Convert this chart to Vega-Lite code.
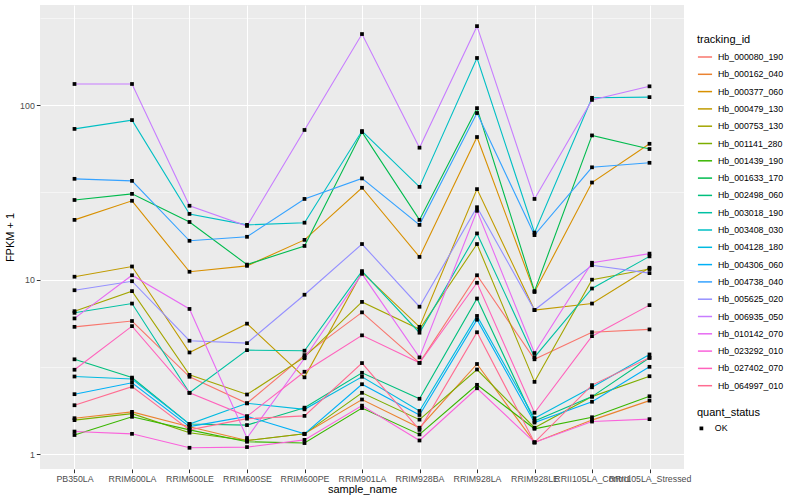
{
 "$schema": "https://vega.github.io/schema/vega-lite/v6.json",
 "width": 644,
 "height": 464,
 "autosize": {"type": "none"},
 "padding": {"left": 40, "top": 5, "right": 116, "bottom": 31},
 "background": "white",
 "config": {
  "view": {"fill": "#EBEBEB", "stroke": null},
  "font": "Liberation Sans",
  "axis": {"domain": false, "gridColor": "white", "tickColor": "#333333", "tickSize": 3.7, "tickWidth": 1, "labelColor": "#4D4D4D", "labelFontSize": 8.8, "labelFont": "Liberation Sans", "titleFont": "Liberation Sans", "titleFontSize": 11, "titleFontWeight": "normal", "titleColor": "black", "labelPadding": 2},
  "legend": {"titleFont": "Liberation Sans", "labelFont": "Liberation Sans", "titleFontSize": 11, "titleFontWeight": "normal", "titleColor": "black", "labelFontSize": 8.8, "labelColor": "black"}
 },
 "data": {"values": [
  {"tracking_id":"Hb_000080_190","sample_name":"PB350LA","fpkm":5.37,"quant_status":"OK"},
  {"tracking_id":"Hb_000080_190","sample_name":"RRIM600LA","fpkm":5.8,"quant_status":"OK"},
  {"tracking_id":"Hb_000080_190","sample_name":"RRIM600LE","fpkm":2.78,"quant_status":"OK"},
  {"tracking_id":"Hb_000080_190","sample_name":"RRIM600SE","fpkm":1.96,"quant_status":"OK"},
  {"tracking_id":"Hb_000080_190","sample_name":"RRIM600PE","fpkm":3.7,"quant_status":"OK"},
  {"tracking_id":"Hb_000080_190","sample_name":"RRIM901LA","fpkm":6.5,"quant_status":"OK"},
  {"tracking_id":"Hb_000080_190","sample_name":"RRIM928BA","fpkm":3.34,"quant_status":"OK"},
  {"tracking_id":"Hb_000080_190","sample_name":"RRIM928LA","fpkm":10.6,"quant_status":"OK"},
  {"tracking_id":"Hb_000080_190","sample_name":"RRIM928LE","fpkm":3.5,"quant_status":"OK"},
  {"tracking_id":"Hb_000080_190","sample_name":"RRII105LA_Control","fpkm":5.0,"quant_status":"OK"},
  {"tracking_id":"Hb_000080_190","sample_name":"RRII105LA_Stressed","fpkm":5.19,"quant_status":"OK"},
  {"tracking_id":"Hb_000162_040","sample_name":"PB350LA","fpkm":1.61,"quant_status":"OK"},
  {"tracking_id":"Hb_000162_040","sample_name":"RRIM600LA","fpkm":1.75,"quant_status":"OK"},
  {"tracking_id":"Hb_000162_040","sample_name":"RRIM600LE","fpkm":1.44,"quant_status":"OK"},
  {"tracking_id":"Hb_000162_040","sample_name":"RRIM600SE","fpkm":1.2,"quant_status":"OK"},
  {"tracking_id":"Hb_000162_040","sample_name":"RRIM600PE","fpkm":1.31,"quant_status":"OK"},
  {"tracking_id":"Hb_000162_040","sample_name":"RRIM901LA","fpkm":2.06,"quant_status":"OK"},
  {"tracking_id":"Hb_000162_040","sample_name":"RRIM928BA","fpkm":1.42,"quant_status":"OK"},
  {"tracking_id":"Hb_000162_040","sample_name":"RRIM928LA","fpkm":3.29,"quant_status":"OK"},
  {"tracking_id":"Hb_000162_040","sample_name":"RRIM928LE","fpkm":1.17,"quant_status":"OK"},
  {"tracking_id":"Hb_000162_040","sample_name":"RRII105LA_Control","fpkm":1.57,"quant_status":"OK"},
  {"tracking_id":"Hb_000162_040","sample_name":"RRII105LA_Stressed","fpkm":2.03,"quant_status":"OK"},
  {"tracking_id":"Hb_000377_060","sample_name":"PB350LA","fpkm":22,"quant_status":"OK"},
  {"tracking_id":"Hb_000377_060","sample_name":"RRIM600LA","fpkm":28.3,"quant_status":"OK"},
  {"tracking_id":"Hb_000377_060","sample_name":"RRIM600LE","fpkm":11.1,"quant_status":"OK"},
  {"tracking_id":"Hb_000377_060","sample_name":"RRIM600SE","fpkm":12,"quant_status":"OK"},
  {"tracking_id":"Hb_000377_060","sample_name":"RRIM600PE","fpkm":16.9,"quant_status":"OK"},
  {"tracking_id":"Hb_000377_060","sample_name":"RRIM901LA","fpkm":33.6,"quant_status":"OK"},
  {"tracking_id":"Hb_000377_060","sample_name":"RRIM928BA","fpkm":13.5,"quant_status":"OK"},
  {"tracking_id":"Hb_000377_060","sample_name":"RRIM928LA","fpkm":65.6,"quant_status":"OK"},
  {"tracking_id":"Hb_000377_060","sample_name":"RRIM928LE","fpkm":8.5,"quant_status":"OK"},
  {"tracking_id":"Hb_000377_060","sample_name":"RRII105LA_Control","fpkm":36,"quant_status":"OK"},
  {"tracking_id":"Hb_000377_060","sample_name":"RRII105LA_Stressed","fpkm":60,"quant_status":"OK"},
  {"tracking_id":"Hb_000479_130","sample_name":"PB350LA","fpkm":10.4,"quant_status":"OK"},
  {"tracking_id":"Hb_000479_130","sample_name":"RRIM600LA","fpkm":11.9,"quant_status":"OK"},
  {"tracking_id":"Hb_000479_130","sample_name":"RRIM600LE","fpkm":3.83,"quant_status":"OK"},
  {"tracking_id":"Hb_000479_130","sample_name":"RRIM600SE","fpkm":5.6,"quant_status":"OK"},
  {"tracking_id":"Hb_000479_130","sample_name":"RRIM600PE","fpkm":2.76,"quant_status":"OK"},
  {"tracking_id":"Hb_000479_130","sample_name":"RRIM901LA","fpkm":11.0,"quant_status":"OK"},
  {"tracking_id":"Hb_000479_130","sample_name":"RRIM928BA","fpkm":5.37,"quant_status":"OK"},
  {"tracking_id":"Hb_000479_130","sample_name":"RRIM928LA","fpkm":33,"quant_status":"OK"},
  {"tracking_id":"Hb_000479_130","sample_name":"RRIM928LE","fpkm":6.7,"quant_status":"OK"},
  {"tracking_id":"Hb_000479_130","sample_name":"RRII105LA_Control","fpkm":7.3,"quant_status":"OK"},
  {"tracking_id":"Hb_000479_130","sample_name":"RRII105LA_Stressed","fpkm":11.7,"quant_status":"OK"},
  {"tracking_id":"Hb_000753_130","sample_name":"PB350LA","fpkm":6.6,"quant_status":"OK"},
  {"tracking_id":"Hb_000753_130","sample_name":"RRIM600LA","fpkm":8.6,"quant_status":"OK"},
  {"tracking_id":"Hb_000753_130","sample_name":"RRIM600LE","fpkm":2.85,"quant_status":"OK"},
  {"tracking_id":"Hb_000753_130","sample_name":"RRIM600SE","fpkm":2.2,"quant_status":"OK"},
  {"tracking_id":"Hb_000753_130","sample_name":"RRIM600PE","fpkm":3.6,"quant_status":"OK"},
  {"tracking_id":"Hb_000753_130","sample_name":"RRIM901LA","fpkm":7.46,"quant_status":"OK"},
  {"tracking_id":"Hb_000753_130","sample_name":"RRIM928BA","fpkm":5.2,"quant_status":"OK"},
  {"tracking_id":"Hb_000753_130","sample_name":"RRIM928LA","fpkm":16,"quant_status":"OK"},
  {"tracking_id":"Hb_000753_130","sample_name":"RRIM928LE","fpkm":2.6,"quant_status":"OK"},
  {"tracking_id":"Hb_000753_130","sample_name":"RRII105LA_Control","fpkm":10.0,"quant_status":"OK"},
  {"tracking_id":"Hb_000753_130","sample_name":"RRII105LA_Stressed","fpkm":11.5,"quant_status":"OK"},
  {"tracking_id":"Hb_001141_280","sample_name":"PB350LA","fpkm":1.57,"quant_status":"OK"},
  {"tracking_id":"Hb_001141_280","sample_name":"RRIM600LA","fpkm":1.71,"quant_status":"OK"},
  {"tracking_id":"Hb_001141_280","sample_name":"RRIM600LE","fpkm":1.33,"quant_status":"OK"},
  {"tracking_id":"Hb_001141_280","sample_name":"RRIM600SE","fpkm":1.2,"quant_status":"OK"},
  {"tracking_id":"Hb_001141_280","sample_name":"RRIM600PE","fpkm":1.31,"quant_status":"OK"},
  {"tracking_id":"Hb_001141_280","sample_name":"RRIM901LA","fpkm":2.25,"quant_status":"OK"},
  {"tracking_id":"Hb_001141_280","sample_name":"RRIM928BA","fpkm":1.58,"quant_status":"OK"},
  {"tracking_id":"Hb_001141_280","sample_name":"RRIM928LA","fpkm":3.06,"quant_status":"OK"},
  {"tracking_id":"Hb_001141_280","sample_name":"RRIM928LE","fpkm":1.42,"quant_status":"OK"},
  {"tracking_id":"Hb_001141_280","sample_name":"RRII105LA_Control","fpkm":2.14,"quant_status":"OK"},
  {"tracking_id":"Hb_001141_280","sample_name":"RRII105LA_Stressed","fpkm":2.8,"quant_status":"OK"},
  {"tracking_id":"Hb_001439_190","sample_name":"PB350LA","fpkm":1.29,"quant_status":"OK"},
  {"tracking_id":"Hb_001439_190","sample_name":"RRIM600LA","fpkm":1.64,"quant_status":"OK"},
  {"tracking_id":"Hb_001439_190","sample_name":"RRIM600LE","fpkm":1.38,"quant_status":"OK"},
  {"tracking_id":"Hb_001439_190","sample_name":"RRIM600SE","fpkm":1.18,"quant_status":"OK"},
  {"tracking_id":"Hb_001439_190","sample_name":"RRIM600PE","fpkm":1.16,"quant_status":"OK"},
  {"tracking_id":"Hb_001439_190","sample_name":"RRIM901LA","fpkm":1.84,"quant_status":"OK"},
  {"tracking_id":"Hb_001439_190","sample_name":"RRIM928BA","fpkm":1.3,"quant_status":"OK"},
  {"tracking_id":"Hb_001439_190","sample_name":"RRIM928LA","fpkm":2.5,"quant_status":"OK"},
  {"tracking_id":"Hb_001439_190","sample_name":"RRIM928LE","fpkm":1.4,"quant_status":"OK"},
  {"tracking_id":"Hb_001439_190","sample_name":"RRII105LA_Control","fpkm":1.63,"quant_status":"OK"},
  {"tracking_id":"Hb_001439_190","sample_name":"RRII105LA_Stressed","fpkm":2.15,"quant_status":"OK"},
  {"tracking_id":"Hb_001633_170","sample_name":"PB350LA","fpkm":28.6,"quant_status":"OK"},
  {"tracking_id":"Hb_001633_170","sample_name":"RRIM600LA","fpkm":31,"quant_status":"OK"},
  {"tracking_id":"Hb_001633_170","sample_name":"RRIM600LE","fpkm":21.4,"quant_status":"OK"},
  {"tracking_id":"Hb_001633_170","sample_name":"RRIM600SE","fpkm":12.2,"quant_status":"OK"},
  {"tracking_id":"Hb_001633_170","sample_name":"RRIM600PE","fpkm":15.6,"quant_status":"OK"},
  {"tracking_id":"Hb_001633_170","sample_name":"RRIM901LA","fpkm":70,"quant_status":"OK"},
  {"tracking_id":"Hb_001633_170","sample_name":"RRIM928BA","fpkm":22,"quant_status":"OK"},
  {"tracking_id":"Hb_001633_170","sample_name":"RRIM928LA","fpkm":96,"quant_status":"OK"},
  {"tracking_id":"Hb_001633_170","sample_name":"RRIM928LE","fpkm":8.6,"quant_status":"OK"},
  {"tracking_id":"Hb_001633_170","sample_name":"RRII105LA_Control","fpkm":67,"quant_status":"OK"},
  {"tracking_id":"Hb_001633_170","sample_name":"RRII105LA_Stressed","fpkm":56,"quant_status":"OK"},
  {"tracking_id":"Hb_002498_060","sample_name":"PB350LA","fpkm":3.5,"quant_status":"OK"},
  {"tracking_id":"Hb_002498_060","sample_name":"RRIM600LA","fpkm":2.75,"quant_status":"OK"},
  {"tracking_id":"Hb_002498_060","sample_name":"RRIM600LE","fpkm":1.49,"quant_status":"OK"},
  {"tracking_id":"Hb_002498_060","sample_name":"RRIM600SE","fpkm":1.47,"quant_status":"OK"},
  {"tracking_id":"Hb_002498_060","sample_name":"RRIM600PE","fpkm":1.85,"quant_status":"OK"},
  {"tracking_id":"Hb_002498_060","sample_name":"RRIM901LA","fpkm":2.93,"quant_status":"OK"},
  {"tracking_id":"Hb_002498_060","sample_name":"RRIM928BA","fpkm":2.08,"quant_status":"OK"},
  {"tracking_id":"Hb_002498_060","sample_name":"RRIM928LA","fpkm":7.8,"quant_status":"OK"},
  {"tracking_id":"Hb_002498_060","sample_name":"RRIM928LE","fpkm":1.55,"quant_status":"OK"},
  {"tracking_id":"Hb_002498_060","sample_name":"RRII105LA_Control","fpkm":2.14,"quant_status":"OK"},
  {"tracking_id":"Hb_002498_060","sample_name":"RRII105LA_Stressed","fpkm":3.57,"quant_status":"OK"},
  {"tracking_id":"Hb_003018_190","sample_name":"PB350LA","fpkm":6.46,"quant_status":"OK"},
  {"tracking_id":"Hb_003018_190","sample_name":"RRIM600LA","fpkm":7.3,"quant_status":"OK"},
  {"tracking_id":"Hb_003018_190","sample_name":"RRIM600LE","fpkm":2.25,"quant_status":"OK"},
  {"tracking_id":"Hb_003018_190","sample_name":"RRIM600SE","fpkm":3.95,"quant_status":"OK"},
  {"tracking_id":"Hb_003018_190","sample_name":"RRIM600PE","fpkm":3.92,"quant_status":"OK"},
  {"tracking_id":"Hb_003018_190","sample_name":"RRIM901LA","fpkm":11.2,"quant_status":"OK"},
  {"tracking_id":"Hb_003018_190","sample_name":"RRIM928BA","fpkm":4.97,"quant_status":"OK"},
  {"tracking_id":"Hb_003018_190","sample_name":"RRIM928LA","fpkm":18.4,"quant_status":"OK"},
  {"tracking_id":"Hb_003018_190","sample_name":"RRIM928LE","fpkm":3.6,"quant_status":"OK"},
  {"tracking_id":"Hb_003018_190","sample_name":"RRII105LA_Control","fpkm":8.9,"quant_status":"OK"},
  {"tracking_id":"Hb_003018_190","sample_name":"RRII105LA_Stressed","fpkm":13.6,"quant_status":"OK"},
  {"tracking_id":"Hb_003408_030","sample_name":"PB350LA","fpkm":73,"quant_status":"OK"},
  {"tracking_id":"Hb_003408_030","sample_name":"RRIM600LA","fpkm":82,"quant_status":"OK"},
  {"tracking_id":"Hb_003408_030","sample_name":"RRIM600LE","fpkm":23.8,"quant_status":"OK"},
  {"tracking_id":"Hb_003408_030","sample_name":"RRIM600SE","fpkm":20.6,"quant_status":"OK"},
  {"tracking_id":"Hb_003408_030","sample_name":"RRIM600PE","fpkm":21.2,"quant_status":"OK"},
  {"tracking_id":"Hb_003408_030","sample_name":"RRIM901LA","fpkm":71,"quant_status":"OK"},
  {"tracking_id":"Hb_003408_030","sample_name":"RRIM928BA","fpkm":34,"quant_status":"OK"},
  {"tracking_id":"Hb_003408_030","sample_name":"RRIM928LA","fpkm":186,"quant_status":"OK"},
  {"tracking_id":"Hb_003408_030","sample_name":"RRIM928LE","fpkm":18.6,"quant_status":"OK"},
  {"tracking_id":"Hb_003408_030","sample_name":"RRII105LA_Control","fpkm":110,"quant_status":"OK"},
  {"tracking_id":"Hb_003408_030","sample_name":"RRII105LA_Stressed","fpkm":111,"quant_status":"OK"},
  {"tracking_id":"Hb_004128_180","sample_name":"PB350LA","fpkm":2.79,"quant_status":"OK"},
  {"tracking_id":"Hb_004128_180","sample_name":"RRIM600LA","fpkm":2.7,"quant_status":"OK"},
  {"tracking_id":"Hb_004128_180","sample_name":"RRIM600LE","fpkm":1.49,"quant_status":"OK"},
  {"tracking_id":"Hb_004128_180","sample_name":"RRIM600SE","fpkm":1.96,"quant_status":"OK"},
  {"tracking_id":"Hb_004128_180","sample_name":"RRIM600PE","fpkm":1.81,"quant_status":"OK"},
  {"tracking_id":"Hb_004128_180","sample_name":"RRIM901LA","fpkm":2.78,"quant_status":"OK"},
  {"tracking_id":"Hb_004128_180","sample_name":"RRIM928BA","fpkm":1.77,"quant_status":"OK"},
  {"tracking_id":"Hb_004128_180","sample_name":"RRIM928LA","fpkm":6.2,"quant_status":"OK"},
  {"tracking_id":"Hb_004128_180","sample_name":"RRIM928LE","fpkm":1.61,"quant_status":"OK"},
  {"tracking_id":"Hb_004128_180","sample_name":"RRII105LA_Control","fpkm":2.42,"quant_status":"OK"},
  {"tracking_id":"Hb_004128_180","sample_name":"RRII105LA_Stressed","fpkm":3.73,"quant_status":"OK"},
  {"tracking_id":"Hb_004306_060","sample_name":"PB350LA","fpkm":2.21,"quant_status":"OK"},
  {"tracking_id":"Hb_004306_060","sample_name":"RRIM600LA","fpkm":2.57,"quant_status":"OK"},
  {"tracking_id":"Hb_004306_060","sample_name":"RRIM600LE","fpkm":1.44,"quant_status":"OK"},
  {"tracking_id":"Hb_004306_060","sample_name":"RRIM600SE","fpkm":1.65,"quant_status":"OK"},
  {"tracking_id":"Hb_004306_060","sample_name":"RRIM600PE","fpkm":1.31,"quant_status":"OK"},
  {"tracking_id":"Hb_004306_060","sample_name":"RRIM901LA","fpkm":2.52,"quant_status":"OK"},
  {"tracking_id":"Hb_004306_060","sample_name":"RRIM928BA","fpkm":1.68,"quant_status":"OK"},
  {"tracking_id":"Hb_004306_060","sample_name":"RRIM928LA","fpkm":5.9,"quant_status":"OK"},
  {"tracking_id":"Hb_004306_060","sample_name":"RRIM928LE","fpkm":1.52,"quant_status":"OK"},
  {"tracking_id":"Hb_004306_060","sample_name":"RRII105LA_Control","fpkm":2.0,"quant_status":"OK"},
  {"tracking_id":"Hb_004306_060","sample_name":"RRII105LA_Stressed","fpkm":3.17,"quant_status":"OK"},
  {"tracking_id":"Hb_004738_040","sample_name":"PB350LA","fpkm":37.8,"quant_status":"OK"},
  {"tracking_id":"Hb_004738_040","sample_name":"RRIM600LA","fpkm":36.8,"quant_status":"OK"},
  {"tracking_id":"Hb_004738_040","sample_name":"RRIM600LE","fpkm":16.7,"quant_status":"OK"},
  {"tracking_id":"Hb_004738_040","sample_name":"RRIM600SE","fpkm":17.6,"quant_status":"OK"},
  {"tracking_id":"Hb_004738_040","sample_name":"RRIM600PE","fpkm":29,"quant_status":"OK"},
  {"tracking_id":"Hb_004738_040","sample_name":"RRIM901LA","fpkm":38,"quant_status":"OK"},
  {"tracking_id":"Hb_004738_040","sample_name":"RRIM928BA","fpkm":20.6,"quant_status":"OK"},
  {"tracking_id":"Hb_004738_040","sample_name":"RRIM928LA","fpkm":90,"quant_status":"OK"},
  {"tracking_id":"Hb_004738_040","sample_name":"RRIM928LE","fpkm":18,"quant_status":"OK"},
  {"tracking_id":"Hb_004738_040","sample_name":"RRII105LA_Control","fpkm":44,"quant_status":"OK"},
  {"tracking_id":"Hb_004738_040","sample_name":"RRII105LA_Stressed","fpkm":46.7,"quant_status":"OK"},
  {"tracking_id":"Hb_005625_020","sample_name":"PB350LA","fpkm":8.7,"quant_status":"OK"},
  {"tracking_id":"Hb_005625_020","sample_name":"RRIM600LA","fpkm":9.8,"quant_status":"OK"},
  {"tracking_id":"Hb_005625_020","sample_name":"RRIM600LE","fpkm":4.47,"quant_status":"OK"},
  {"tracking_id":"Hb_005625_020","sample_name":"RRIM600SE","fpkm":4.33,"quant_status":"OK"},
  {"tracking_id":"Hb_005625_020","sample_name":"RRIM600PE","fpkm":8.2,"quant_status":"OK"},
  {"tracking_id":"Hb_005625_020","sample_name":"RRIM901LA","fpkm":16,"quant_status":"OK"},
  {"tracking_id":"Hb_005625_020","sample_name":"RRIM928BA","fpkm":7.0,"quant_status":"OK"},
  {"tracking_id":"Hb_005625_020","sample_name":"RRIM928LA","fpkm":26,"quant_status":"OK"},
  {"tracking_id":"Hb_005625_020","sample_name":"RRIM928LE","fpkm":6.7,"quant_status":"OK"},
  {"tracking_id":"Hb_005625_020","sample_name":"RRII105LA_Control","fpkm":12.1,"quant_status":"OK"},
  {"tracking_id":"Hb_005625_020","sample_name":"RRII105LA_Stressed","fpkm":10.9,"quant_status":"OK"},
  {"tracking_id":"Hb_006935_050","sample_name":"PB350LA","fpkm":132,"quant_status":"OK"},
  {"tracking_id":"Hb_006935_050","sample_name":"RRIM600LA","fpkm":132,"quant_status":"OK"},
  {"tracking_id":"Hb_006935_050","sample_name":"RRIM600LE","fpkm":26.5,"quant_status":"OK"},
  {"tracking_id":"Hb_006935_050","sample_name":"RRIM600SE","fpkm":20.3,"quant_status":"OK"},
  {"tracking_id":"Hb_006935_050","sample_name":"RRIM600PE","fpkm":72,"quant_status":"OK"},
  {"tracking_id":"Hb_006935_050","sample_name":"RRIM901LA","fpkm":255,"quant_status":"OK"},
  {"tracking_id":"Hb_006935_050","sample_name":"RRIM928BA","fpkm":57,"quant_status":"OK"},
  {"tracking_id":"Hb_006935_050","sample_name":"RRIM928LA","fpkm":283,"quant_status":"OK"},
  {"tracking_id":"Hb_006935_050","sample_name":"RRIM928LE","fpkm":29,"quant_status":"OK"},
  {"tracking_id":"Hb_006935_050","sample_name":"RRII105LA_Control","fpkm":107,"quant_status":"OK"},
  {"tracking_id":"Hb_006935_050","sample_name":"RRII105LA_Stressed","fpkm":128,"quant_status":"OK"},
  {"tracking_id":"Hb_010142_070","sample_name":"PB350LA","fpkm":6.0,"quant_status":"OK"},
  {"tracking_id":"Hb_010142_070","sample_name":"RRIM600LA","fpkm":10.6,"quant_status":"OK"},
  {"tracking_id":"Hb_010142_070","sample_name":"RRIM600LE","fpkm":6.8,"quant_status":"OK"},
  {"tracking_id":"Hb_010142_070","sample_name":"RRIM600SE","fpkm":1.24,"quant_status":"OK"},
  {"tracking_id":"Hb_010142_070","sample_name":"RRIM600PE","fpkm":3.55,"quant_status":"OK"},
  {"tracking_id":"Hb_010142_070","sample_name":"RRIM901LA","fpkm":10.8,"quant_status":"OK"},
  {"tracking_id":"Hb_010142_070","sample_name":"RRIM928BA","fpkm":3.59,"quant_status":"OK"},
  {"tracking_id":"Hb_010142_070","sample_name":"RRIM928LA","fpkm":24.8,"quant_status":"OK"},
  {"tracking_id":"Hb_010142_070","sample_name":"RRIM928LE","fpkm":3.8,"quant_status":"OK"},
  {"tracking_id":"Hb_010142_070","sample_name":"RRII105LA_Control","fpkm":12.5,"quant_status":"OK"},
  {"tracking_id":"Hb_010142_070","sample_name":"RRII105LA_Stressed","fpkm":14.1,"quant_status":"OK"},
  {"tracking_id":"Hb_023292_010","sample_name":"PB350LA","fpkm":1.35,"quant_status":"OK"},
  {"tracking_id":"Hb_023292_010","sample_name":"RRIM600LA","fpkm":1.31,"quant_status":"OK"},
  {"tracking_id":"Hb_023292_010","sample_name":"RRIM600LE","fpkm":1.09,"quant_status":"OK"},
  {"tracking_id":"Hb_023292_010","sample_name":"RRIM600SE","fpkm":1.1,"quant_status":"OK"},
  {"tracking_id":"Hb_023292_010","sample_name":"RRIM600PE","fpkm":1.21,"quant_status":"OK"},
  {"tracking_id":"Hb_023292_010","sample_name":"RRIM901LA","fpkm":1.9,"quant_status":"OK"},
  {"tracking_id":"Hb_023292_010","sample_name":"RRIM928BA","fpkm":1.2,"quant_status":"OK"},
  {"tracking_id":"Hb_023292_010","sample_name":"RRIM928LA","fpkm":2.39,"quant_status":"OK"},
  {"tracking_id":"Hb_023292_010","sample_name":"RRIM928LE","fpkm":1.17,"quant_status":"OK"},
  {"tracking_id":"Hb_023292_010","sample_name":"RRII105LA_Control","fpkm":1.54,"quant_status":"OK"},
  {"tracking_id":"Hb_023292_010","sample_name":"RRII105LA_Stressed","fpkm":1.59,"quant_status":"OK"},
  {"tracking_id":"Hb_027402_070","sample_name":"PB350LA","fpkm":3.05,"quant_status":"OK"},
  {"tracking_id":"Hb_027402_070","sample_name":"RRIM600LA","fpkm":5.42,"quant_status":"OK"},
  {"tracking_id":"Hb_027402_070","sample_name":"RRIM600LE","fpkm":2.25,"quant_status":"OK"},
  {"tracking_id":"Hb_027402_070","sample_name":"RRIM600SE","fpkm":1.65,"quant_status":"OK"},
  {"tracking_id":"Hb_027402_070","sample_name":"RRIM600PE","fpkm":2.97,"quant_status":"OK"},
  {"tracking_id":"Hb_027402_070","sample_name":"RRIM901LA","fpkm":4.8,"quant_status":"OK"},
  {"tracking_id":"Hb_027402_070","sample_name":"RRIM928BA","fpkm":3.34,"quant_status":"OK"},
  {"tracking_id":"Hb_027402_070","sample_name":"RRIM928LA","fpkm":9.6,"quant_status":"OK"},
  {"tracking_id":"Hb_027402_070","sample_name":"RRIM928LE","fpkm":1.73,"quant_status":"OK"},
  {"tracking_id":"Hb_027402_070","sample_name":"RRII105LA_Control","fpkm":4.75,"quant_status":"OK"},
  {"tracking_id":"Hb_027402_070","sample_name":"RRII105LA_Stressed","fpkm":7.15,"quant_status":"OK"},
  {"tracking_id":"Hb_064997_010","sample_name":"PB350LA","fpkm":1.91,"quant_status":"OK"},
  {"tracking_id":"Hb_064997_010","sample_name":"RRIM600LA","fpkm":2.44,"quant_status":"OK"},
  {"tracking_id":"Hb_064997_010","sample_name":"RRIM600LE","fpkm":1.38,"quant_status":"OK"},
  {"tracking_id":"Hb_064997_010","sample_name":"RRIM600SE","fpkm":1.6,"quant_status":"OK"},
  {"tracking_id":"Hb_064997_010","sample_name":"RRIM600PE","fpkm":1.66,"quant_status":"OK"},
  {"tracking_id":"Hb_064997_010","sample_name":"RRIM901LA","fpkm":3.33,"quant_status":"OK"},
  {"tracking_id":"Hb_064997_010","sample_name":"RRIM928BA","fpkm":1.38,"quant_status":"OK"},
  {"tracking_id":"Hb_064997_010","sample_name":"RRIM928LA","fpkm":5.0,"quant_status":"OK"},
  {"tracking_id":"Hb_064997_010","sample_name":"RRIM928LE","fpkm":1.17,"quant_status":"OK"},
  {"tracking_id":"Hb_064997_010","sample_name":"RRII105LA_Control","fpkm":2.49,"quant_status":"OK"},
  {"tracking_id":"Hb_064997_010","sample_name":"RRII105LA_Stressed","fpkm":3.57,"quant_status":"OK"}
 ]},
 "encoding": {
  "x": {"field": "sample_name", "type": "nominal",
   "sort": ["PB350LA","RRIM600LA","RRIM600LE","RRIM600SE","RRIM600PE","RRIM901LA","RRIM928BA","RRIM928LA","RRIM928LE","RRII105LA_Control","RRII105LA_Stressed"],
   "scale": {"type": "point", "padding": 0.6},
   "axis": {"title": "sample_name", "labelAngle": 0, "labelOverlap": false, "labelBound": false, "grid": true, "gridWidth": 1.07, "titlePadding": 0}},
  "y": {"field": "fpkm", "type": "quantitative",
   "scale": {"type": "log", "domain": [0.824, 374], "nice": false},
   "axis": {"title": "FPKM + 1", "values": [1, 3.1623, 10, 31.623, 100, 316.23],
    "labelExpr": "datum.value == 1 ? '1' : datum.value == 10 ? '10' : datum.value == 100 ? '100' : ''",
    "gridWidth": {"condition": {"test": "datum.value == 1 || datum.value == 10 || datum.value == 100", "value": 1.07}, "value": 0.53},
    "tickOpacity": {"condition": {"test": "datum.value == 1 || datum.value == 10 || datum.value == 100", "value": 1}, "value": 0},
    "titlePadding": 4}}
 },
 "layer": [
  {"mark": {"type": "line", "strokeWidth": 1.1},
   "encoding": {
    "color": {"field": "tracking_id", "type": "nominal",
     "scale": {"range": ["#F8766D","#EA8331","#D89000","#C09B00","#A3A500","#7CAE00","#39B600","#00BB4E","#00BF7D","#00C1A3","#00BFC4","#00BAE0","#00B0F6","#35A2FF","#9590FF","#C77CFF","#E76BF3","#FA62DB","#FF62BC","#FF6C91"]},
     "legend": {"orient": "none", "legendX": 657, "legendY": 29, "title": "tracking_id", "titlePadding": 4, "symbolType": "stroke", "symbolSize": 200, "symbolStrokeWidth": 1.5, "rowPadding": 4.3, "labelOffset": 5}}
   }},
  {"mark": {"type": "point", "filled": true, "size": 14, "color": "black", "opacity": 1},
   "encoding": {
    "shape": {"field": "quant_status", "type": "nominal", "scale": {"range": ["square"]},
     "legend": {"orient": "none", "legendX": 657, "legendY": 402, "title": "quant_status", "titlePadding": 6, "symbolFillColor": "black", "symbolStrokeColor": "black", "symbolSize": 14, "labelOffset": 9}}
   }}
 ]
}
